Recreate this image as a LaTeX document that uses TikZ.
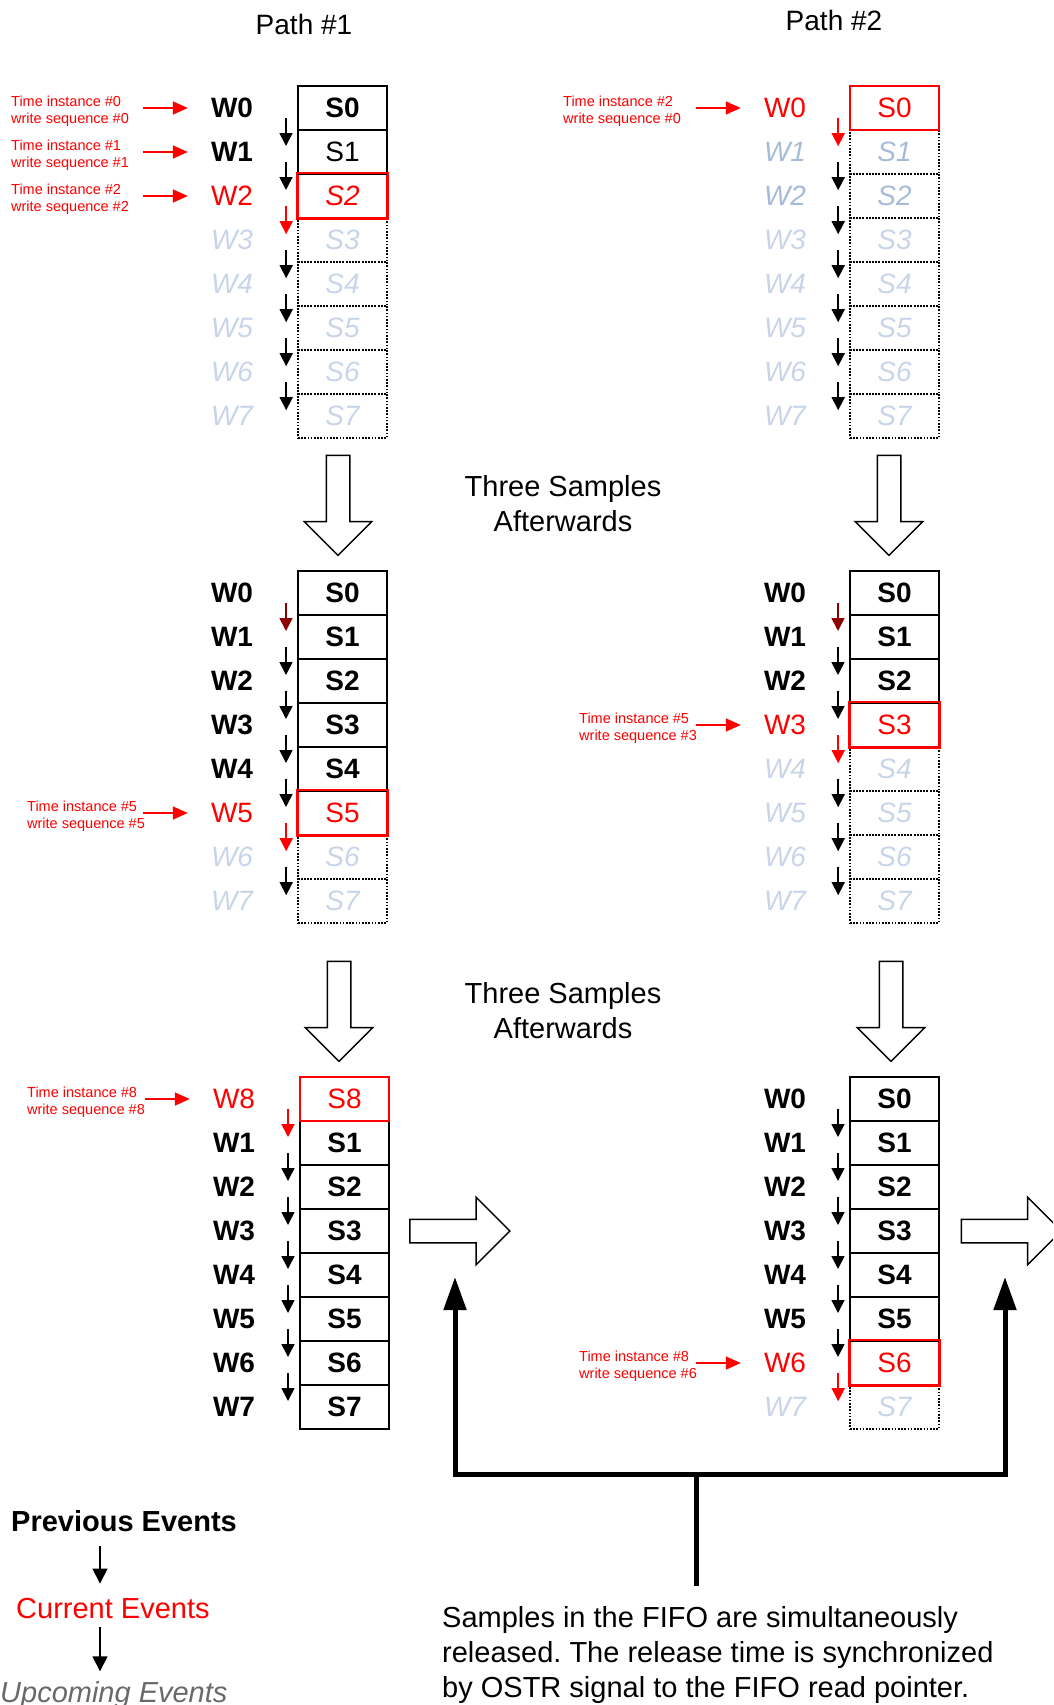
\documentclass[tikz,border=0pt]{standalone}
\usepackage{fontspec}
\setmainfont{Liberation Sans}
\usetikzlibrary{positioning, arrows.meta, shapes.arrows}

\definecolor{ghost}{RGB}{200,213,232}
\definecolor{ghostdk}{RGB}{166,187,216}
\definecolor{upcoming}{RGB}{105,105,105}
\newcommand{\fifofont}{\fontsize{28}{32}\selectfont}
\newcommand{\bigfont}{\fontsize{29}{35}\selectfont}
\frenchspacing

\begin{document}
\begin{tikzpicture}[
    x=1pt, y=-1pt,
    every node/.style={inner sep=0pt},
    wold/.style={font=\fifofont\bfseries},
    wcur/.style={font=\fifofont, text=red},
    wnext/.style={font=\fifofont\itshape, text=ghost},
    wnextdk/.style={font=\fifofont\itshape, text=ghostdk},
    sbox/.style={minimum width=89pt, minimum height=44pt},
    sold/.style={sbox, draw, line width=2pt, font=\fifofont\bfseries},
    sreg/.style={sbox, draw, line width=2pt, font=\fifofont},
    scur/.style={sbox, draw=red, line width=2pt, font=\fifofont, text=red},
    scurit/.style={scur, font=\fifofont\itshape},
    snext/.style={sbox, draw, line width=1.6pt, dash pattern=on 1.6pt off 1.6pt, font=\fifofont\itshape, text=ghost},
    snextdk/.style={snext, text=ghostdk},
    curframe/.style={draw=red, line width=2pt},
    tlbl/.style={font=\fontsize{14.5}{17}\selectfont, text=red, align=left, anchor=west},
    ptr/.style={-{Triangle[length=15pt, width=13pt]}, red, line width=1.6pt},
    sarr/.style={-{Triangle[length=13pt, width=13pt]}, line width=1.6pt},
    legarr/.style={-{Triangle[length=15pt, width=15pt]}, line width=1.7pt},
    hollow/.style={single arrow, draw, line width=1.5pt, minimum height=100pt, inner sep=11pt, single arrow head extend=22pt, single arrow tip angle=90},
    bigarrow/.style={-{Triangle[length=33pt, width=22pt]}, line width=5pt},
    txt/.style={font=\bigfont, align=center}
]
\useasboundingbox (0,0) rectangle (1053,1705);
\clip (0,0) rectangle (1053,1705);

% Titles
\node[font=\fifofont] (path1) at (304,24) {Path \#1};
\node[font=\fifofont] (path2) at (834,20) {Path \#2};

% Path 1, time instance 2
\foreach \i/\ws/\ss in {7/wnext/snext, 6/wnext/snext, 5/wnext/snext, 4/wnext/snext, 3/wnext/snext, 2/wcur/scurit, 1/wold/sreg, 0/wold/sold} {
    \node[\ws] (wa\i) at (232, {108+44*\i}) {W\i};
    \node[\ss] (sa\i) at (342.5, {108+44*\i}) {S\i};
}
\draw[curframe] (sa2.north west) rectangle (sa2.south east);
\foreach \i/\c in {1/black, 2/black, 3/red, 4/black, 5/black, 6/black, 7/black}
    \draw[sarr, \c] ([shift={(-11pt,11pt)}]sa\i.north west) -- ([shift={(-11pt,-17pt)}]sa\i.north west);
\node[tlbl] (ta0) at (11,111.5) {Time instance \#0\\write sequence \#0};
\node[tlbl] (ta1) at (11,155.5) {Time instance \#1\\write sequence \#1};
\node[tlbl] (ta2) at (11,199.5) {Time instance \#2\\write sequence \#2};
\draw[ptr] ([xshift=-68pt]wa0.west) -- ([xshift=-23pt]wa0.west);
\draw[ptr] ([xshift=-68pt]wa1.west) -- ([xshift=-23pt]wa1.west);
\draw[ptr] ([xshift=-68pt]wa2.west) -- ([xshift=-23pt]wa2.west);

% Path 2, time instance 2
\foreach \i/\ws/\ss in {7/wnext/snext, 6/wnext/snext, 5/wnext/snext, 4/wnext/snext, 3/wnext/snext, 2/wnextdk/snextdk, 1/wnextdk/snextdk, 0/wcur/scur} {
    \node[\ws] (wb\i) at (785, {108+44*\i}) {W\i};
    \node[\ss] (sb\i) at (894.5, {108+44*\i}) {S\i};
}
\foreach \i/\c in {1/red, 2/black, 3/black, 4/black, 5/black, 6/black, 7/black}
    \draw[sarr, \c] ([shift={(-11pt,11pt)}]sb\i.north west) -- ([shift={(-11pt,-17pt)}]sb\i.north west);
\node[tlbl] (tb0) at (563,111.5) {Time instance \#2\\write sequence \#0};
\draw[ptr] ([xshift=-68pt]wb0.west) -- ([xshift=-23pt]wb0.west);

% Three samples later
\node[hollow, rotate=-90] (da1) at (338,499.5) {};
\node[hollow, rotate=-90] (db1) at (889,499.5) {};
\node[txt] (later1) at (563,504) {Three Samples\\Afterwards};

% Path 1, time instance 5
\foreach \i/\ws/\ss in {7/wnext/snext, 6/wnext/snext, 5/wcur/scur, 4/wold/sold, 3/wold/sold, 2/wold/sold, 1/wold/sold, 0/wold/sold} {
    \node[\ws] (wc\i) at (232, {593+44*\i}) {W\i};
    \node[\ss] (sc\i) at (342.5, {593+44*\i}) {S\i};
}
\draw[curframe] (sc5.north west) rectangle (sc5.south east);
\foreach \i/\c in {1/red!55!black, 2/black, 3/black, 4/black, 5/black, 6/red, 7/black}
    \draw[sarr, \c] ([shift={(-11pt,11pt)}]sc\i.north west) -- ([shift={(-11pt,-17pt)}]sc\i.north west);
\node[tlbl] (tc5) at (27,816) {Time instance \#5\\write sequence \#5};
\draw[ptr] ([xshift=-68pt]wc5.west) -- ([xshift=-23pt]wc5.west);

% Path 2, time instance 5
\foreach \i/\ws/\ss in {7/wnext/snext, 6/wnext/snext, 5/wnext/snext, 4/wnext/snext, 3/wcur/scur, 2/wold/sold, 1/wold/sold, 0/wold/sold} {
    \node[\ws] (wd\i) at (785, {593+44*\i}) {W\i};
    \node[\ss] (sd\i) at (894.5, {593+44*\i}) {S\i};
}
\draw[curframe] (sd3.north west) rectangle (sd3.south east);
\foreach \i/\c in {1/red!55!black, 2/black, 3/black, 4/red, 5/black, 6/black, 7/black}
    \draw[sarr, \c] ([shift={(-11pt,11pt)}]sd\i.north west) -- ([shift={(-11pt,-17pt)}]sd\i.north west);
\node[tlbl] (td3) at (579,728) {Time instance \#5\\write sequence \#3};
\draw[ptr] ([xshift=-68pt]wd3.west) -- ([xshift=-23pt]wd3.west);

% Three samples later again
\node[hollow, rotate=-90] (da2) at (339,1005.5) {};
\node[hollow, rotate=-90] (db2) at (891,1005.5) {};
\node[txt] (later2) at (563,1011) {Three Samples\\Afterwards};

% Path 1, time instance 8 (wrapped around)
\foreach \i/\n/\ws/\ss in {7/7/wold/sold, 6/6/wold/sold, 5/5/wold/sold, 4/4/wold/sold, 3/3/wold/sold, 2/2/wold/sold, 1/1/wold/sold, 0/8/wcur/scur} {
    \node[\ws] (we\i) at (234, {1099+44*\i}) {W\n};
    \node[\ss] (se\i) at (344.5, {1099+44*\i}) {S\n};
}
\foreach \i/\c in {1/red, 2/black, 3/black, 4/black, 5/black, 6/black, 7/black}
    \draw[sarr, \c] ([shift={(-11pt,11pt)}]se\i.north west) -- ([shift={(-11pt,-17pt)}]se\i.north west);
\node[tlbl] (te0) at (27,1102.5) {Time instance \#8\\write sequence \#8};
\draw[ptr] ([xshift=-68pt]we0.west) -- ([xshift=-23pt]we0.west);

% Path 2, time instance 8
\foreach \i/\ws/\ss in {7/wnext/snext, 6/wcur/scur, 5/wold/sold, 4/wold/sold, 3/wold/sold, 2/wold/sold, 1/wold/sold, 0/wold/sold} {
    \node[\ws] (wf\i) at (785, {1099+44*\i}) {W\i};
    \node[\ss] (sf\i) at (894.5, {1099+44*\i}) {S\i};
}
\draw[curframe] (sf6.north west) rectangle (sf6.south east);
\foreach \i/\c in {1/black, 2/black, 3/black, 4/black, 5/black, 6/black, 7/red}
    \draw[sarr, \c] ([shift={(-11pt,11pt)}]sf\i.north west) -- ([shift={(-11pt,-17pt)}]sf\i.north west);
\node[tlbl] (tf6) at (579,1366.5) {Time instance \#8\\write sequence \#6};
\draw[ptr] ([xshift=-68pt]wf6.west) -- ([xshift=-23pt]wf6.west);

% Release to FIFO read side
\node[hollow] (ra) at (454,1231) {};
\node[hollow] (rb) at (1005.5,1231) {};
\coordinate (split) at (696,1474);
\coordinate (tipL) at (455,1277);
\coordinate (tipR) at (1005,1277);
\draw[bigarrow] (split) -| (tipL);
\draw[bigarrow] (split) -| (tipR);
\node[txt, align=left, anchor=north west] (note) at (442,1606) {Samples in the FIFO are simultaneously\\released. The release time is synchronized\\by OSTR signal to the FIFO read pointer.};
\draw[line width=5pt, shorten >=20pt] (split) -- (split |- note.north);

% Legend
\coordinate (legx) at (100,0);
\node[font=\bigfont\bfseries, anchor=west] (prev) at (11,1521) {Previous Events};
\node[font=\bigfont, text=red, anchor=west] (curr) at (16,1608) {Current Events};
\node[font=\bigfont\itshape, text=upcoming, anchor=west] (upc) at (0,1695) {Upcoming Events};
\draw[legarr, shorten <=14pt, shorten >=14pt] (prev.south -| legx) -- (curr.north -| legx);
\draw[legarr, shorten <=9pt, shorten >=10pt] (curr.south -| legx) -- (upc.north -| legx);

\end{tikzpicture}
\end{document}
